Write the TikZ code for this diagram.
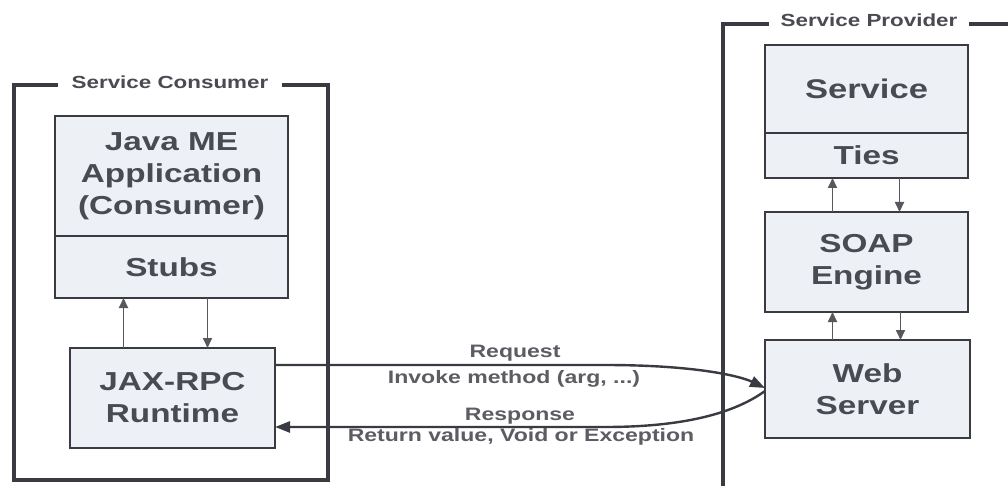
\documentclass[tikz,border=0pt]{standalone}
\usepackage{fontspec}
\usepackage{tikz}
\usetikzlibrary{arrows.meta,positioning,calc}
\newfontfamily\dgfont{Liberation Sans}[FakeStretch=1.28]
\definecolor{cLine}{HTML}{3A3A42}
\definecolor{cText}{HTML}{4A4A52}
\definecolor{cFill}{HTML}{EDF1F6}
\tikzset{
  grpframe/.style={line width=4pt,cLine},
  frametitle/.style={fill=white,inner xsep=14pt,inner ysep=2pt,text=cText,font=\dgfont\bfseries\fontsize{17.5}{20}\selectfont},
  blk/.style={draw=cLine,fill=cFill,line width=2.6pt,outer sep=0pt,inner sep=0pt,text=cText,align=center,font=\dgfont\bfseries\fontsize{26}{32}\selectfont},
  flow/.style={line width=1.8pt,cLine!85,-{Triangle[length=10pt,width=9pt]}},
  msg/.style={line width=2.4pt,cLine,-{Triangle[length=15pt,width=11pt]}},
  msglbl/.style={text=cText!90,font=\dgfont\bfseries\fontsize{18}{20}\selectfont}
}

\begin{document}
\begin{tikzpicture}[x=1pt,y=-1pt]
  \fill[white] (0,0) rectangle (1008,486);
  \useasboundingbox (0,0) rectangle (1008,486);
  % consumer side
  \draw[grpframe] (14,85) rectangle (328,480);
  \node[frametitle] (contitle) at (170,82) {Service Consumer};
  \node[blk,minimum width=233pt,minimum height=120pt] (app) at (171.5,176) {Java ME\\Application\\(Consumer)};
  \node[blk,minimum width=233pt,minimum height=62pt,below=0pt of app] (stubs) {Stubs};
  \node[blk,minimum width=205pt,minimum height=100pt] (jax) at (172.5,398) {JAX-RPC\\Runtime};
  \draw[flow] ([xshift=-49pt]jax.north) -- ([xshift=-48pt]stubs.south);
  \draw[flow] ([xshift=36pt]stubs.south) -- ([xshift=35pt]jax.north);
  % provider side
  \draw[grpframe] (1008,24) -- (723,24) -- (723,486);
  \node[frametitle,inner xsep=12pt] (provtitle) at (869,20) {Service Provider};
  \node[blk,minimum width=203pt,minimum height=88pt,font=\dgfont\bfseries\fontsize{27}{32}\selectfont] (service) at (866.5,89) {Service};
  \node[blk,minimum width=203pt,minimum height=45pt,below=0pt of service] (ties) {Ties};
  \node[blk,minimum width=203pt,minimum height=100pt] (soap) at (866.5,262) {SOAP\\Engine};
  \node[blk,minimum width=205pt,minimum height=98pt] (web) at (867.5,389) {Web\\Server};
  \draw[flow] ([xshift=-34pt]soap.north) -- ([xshift=-34pt]ties.south);
  \draw[flow] ([xshift=33pt]ties.south) -- ([xshift=33pt]soap.north);
  \draw[flow] ([xshift=-35pt]web.north) -- ([xshift=-34pt]soap.south);
  \draw[flow] ([xshift=34pt]soap.south) -- ([xshift=33pt]web.north);
  % request / response
  \coordinate (rq) at (605,365);
  \coordinate (rs) at (605,427);
  \draw[msg] (jax.east |- rq) -- (rq) .. controls +(90,0) and +(-25,-12) .. ([yshift=1pt]web.west);
  \draw[msg] ([yshift=-2pt]web.west) .. controls +(-25,18) and +(90,0) .. (rs) -- (jax.east |- rs);
  \node[msglbl] (reqlbl) at (515,353) {Request};
  \node[msglbl] (invlbl) at (514,379) {Invoke method (arg, ...)};
  \node[msglbl] (reslbl) at (520,416) {Response};
  \node[msglbl] (retlbl) at (521,437) {Return value, Void or Exception};
\end{tikzpicture}
\end{document}
